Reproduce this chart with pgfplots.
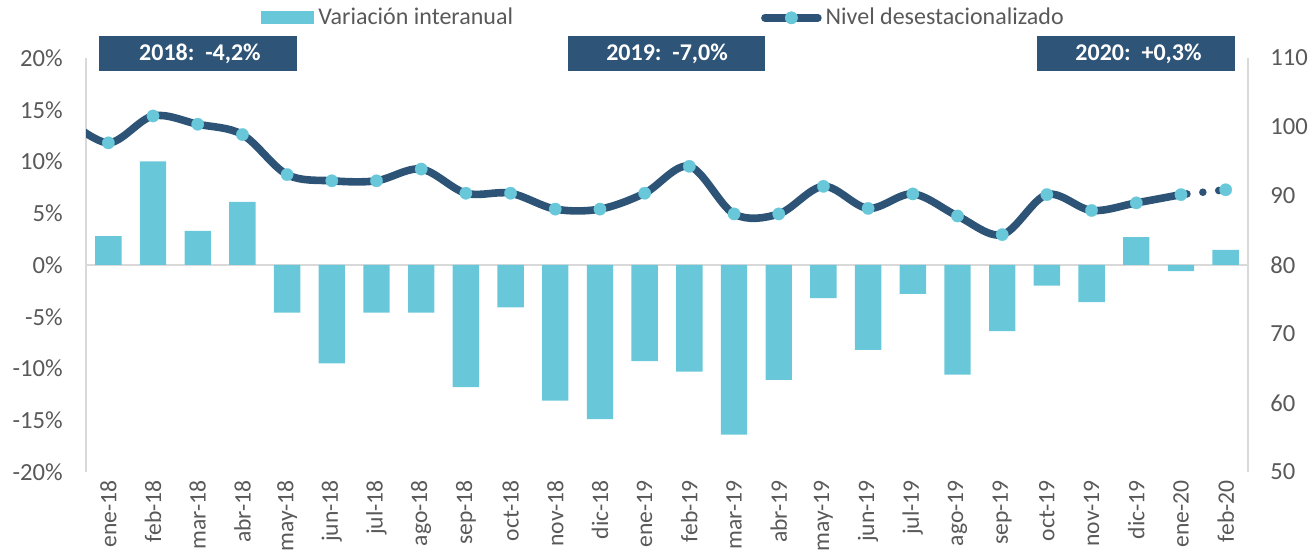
\documentclass[border=0pt]{standalone}
\usepackage{pgfplots}
\usepackage{pgfplotstable}
\pgfplotsset{compat=1.18}
\usepackage{fontspec}
\setmainfont{Carlito}
\definecolor{barcol}{HTML}{68C8DA}
\definecolor{linecol}{HTML}{2D5477}
\definecolor{boxcol}{HTML}{2E5478}
\definecolor{txtcol}{HTML}{595959}
\definecolor{axcol}{HTML}{D9D9D9}

\pgfplotstableread{
x pct
0 2.8
1 10.0
2 3.3
3 6.1
4 -4.6
5 -9.5
6 -4.6
7 -4.6
8 -11.8
9 -4.1
10 -13.1
11 -14.9
12 -9.3
13 -10.3
14 -16.4
15 -11.1
16 -3.2
17 -8.2
18 -2.8
19 -10.6
20 -6.4
21 -2.0
22 -3.6
23 2.7
24 -0.6
25 1.45
}\bars

\pgfplotstableread{
x idx
-1 101.5
0 97.7
1 101.6
2 100.4
3 98.9
4 93.1
5 92.2
6 92.2
7 93.9
8 90.4
9 90.4
10 88.1
11 88.1
12 90.4
13 94.3
14 87.4
15 87.4
16 91.4
17 88.2
18 90.3
19 87.1
20 84.4
21 90.2
22 87.9
23 89.0
24 90.2
}\lineA

\pgfplotstableread{
x idx
0 97.7
1 101.6
2 100.4
3 98.9
4 93.1
5 92.2
6 92.2
7 93.9
8 90.4
9 90.4
10 88.1
11 88.1
12 90.4
13 94.3
14 87.4
15 87.4
16 91.4
17 88.2
18 90.3
19 87.1
20 84.4
21 90.2
22 87.9
23 89.0
24 90.2
25 90.9
}\marksT

\pgfplotstableread{
x idx
24 90.2
25 90.9
}\lineB

\begin{document}
\begin{tikzpicture}
\pgfplotsset{
  common/.style={width=581pt,height=207pt,scale only axis,xmin=-0.5,xmax=25.5,
    /pgf/number format/assume math mode=true,
    major tick length=0pt, tick style={draw=none},
    ticklabel style={font=\fontsize{12.3}{14}\selectfont, text=txtcol, inner sep=0pt},
  },
}
\begin{axis}[common, name=ax, ymin=-20, ymax=20, ytick={-20,-15,...,20},
  yticklabel={\pgfmathprintnumber{\tick}\%},
  axis y line*=left, axis x line*=bottom,
  x axis line style={draw=none},
  y axis line style={draw=axcol, line width=1pt, -},
  xtick={0,...,25},
  xticklabels={ene-18,feb-18,mar-18,abr-18,may-18,jun-18,jul-18,ago-18,sep-18,oct-18,nov-18,dic-18,ene-19,feb-19,mar-19,abr-19,may-19,jun-19,jul-19,ago-19,sep-19,oct-19,nov-19,dic-19,ene-20,feb-20},
  xticklabel style={rotate=90, anchor=east, font=\fontsize{11.8}{14}\selectfont},
  xticklabel shift=4pt, yticklabel shift=11.5pt,
  extra y ticks={0}, extra y tick labels={},
  extra y tick style={grid=major, major grid style={draw=axcol, line width=1pt}},
  clip=false,
  legend style={at={(0.1506,1.097)}, anchor=west, draw=none, fill=none, inner sep=0pt,
    font=\fontsize{12}{14}\selectfont, text=txtcol,
    /tikz/every even column/.append style={column sep=122pt},
    nodes={inner sep=2pt}},
  legend columns=2, legend cell align=left,
]
\addplot[ybar, bar width=0.59, fill=barcol, draw=none,
  legend image code/.code={\fill[barcol] (0pt,-3.25pt) rectangle (26.5pt,3.25pt);}]
  table[x=x,y=pct]{\bars};
\addlegendentry{Variación interanual}
\addlegendimage{legend image code/.code={
  \draw[linecol, line width=3.8pt, line cap=round] (1pt,0pt) -- (27.5pt,0pt);
  \fill[barcol] (14.25pt,0pt) circle (3pt);}}
\addlegendentry{Nivel desestacionalizado}

\fill[boxcol] (axis cs:-0.21,18.7) rectangle (axis cs:4.22,22.1);
\node[text=white, font=\bfseries\fontsize{12}{14}\selectfont] at (axis cs:2.05,20.4) {2018:\ \ -4,2\%};
\fill[boxcol] (axis cs:10.28,18.7) rectangle (axis cs:14.69,22.1);
\node[text=white, font=\bfseries\fontsize{12}{14}\selectfont] at (axis cs:12.5,20.4) {2019:\ \ -7,0\%};
\fill[boxcol] (axis cs:20.77,18.7) rectangle (axis cs:25.2,22.1);
\node[text=white, font=\bfseries\fontsize{12}{14}\selectfont] at (axis cs:23.05,20.4) {2020:\ \ +0,3\%};
\end{axis}

\begin{axis}[common, ymin=50, ymax=110, ytick={50,60,...,110},
  axis y line*=right, axis x line=none,
  y axis line style={draw=axcol, line width=1pt, -},
  yticklabel shift=11pt]
\addplot[linecol, line width=3.8pt, smooth, tension=0.55, no marks, line cap=round] table[x=x,y=idx]{\lineA};
\addplot[linecol, line width=3.8pt, line cap=round, dash pattern=on 0pt off 8pt, dash phase=5pt, no marks] table[x=x,y=idx]{\lineB};
\addplot[barcol, only marks, mark=*, mark size=3.1pt, mark options={fill=barcol, draw=barcol, line width=0.1pt}] table[x=x,y=idx]{\marksT};
\end{axis}

\pgfresetboundingbox
\path[use as bounding box] ([shift={(-43pt,-42.5pt)}]ax.south west) rectangle ([shift={(30.5pt,29pt)}]ax.north east);
\end{tikzpicture}
\end{document}
